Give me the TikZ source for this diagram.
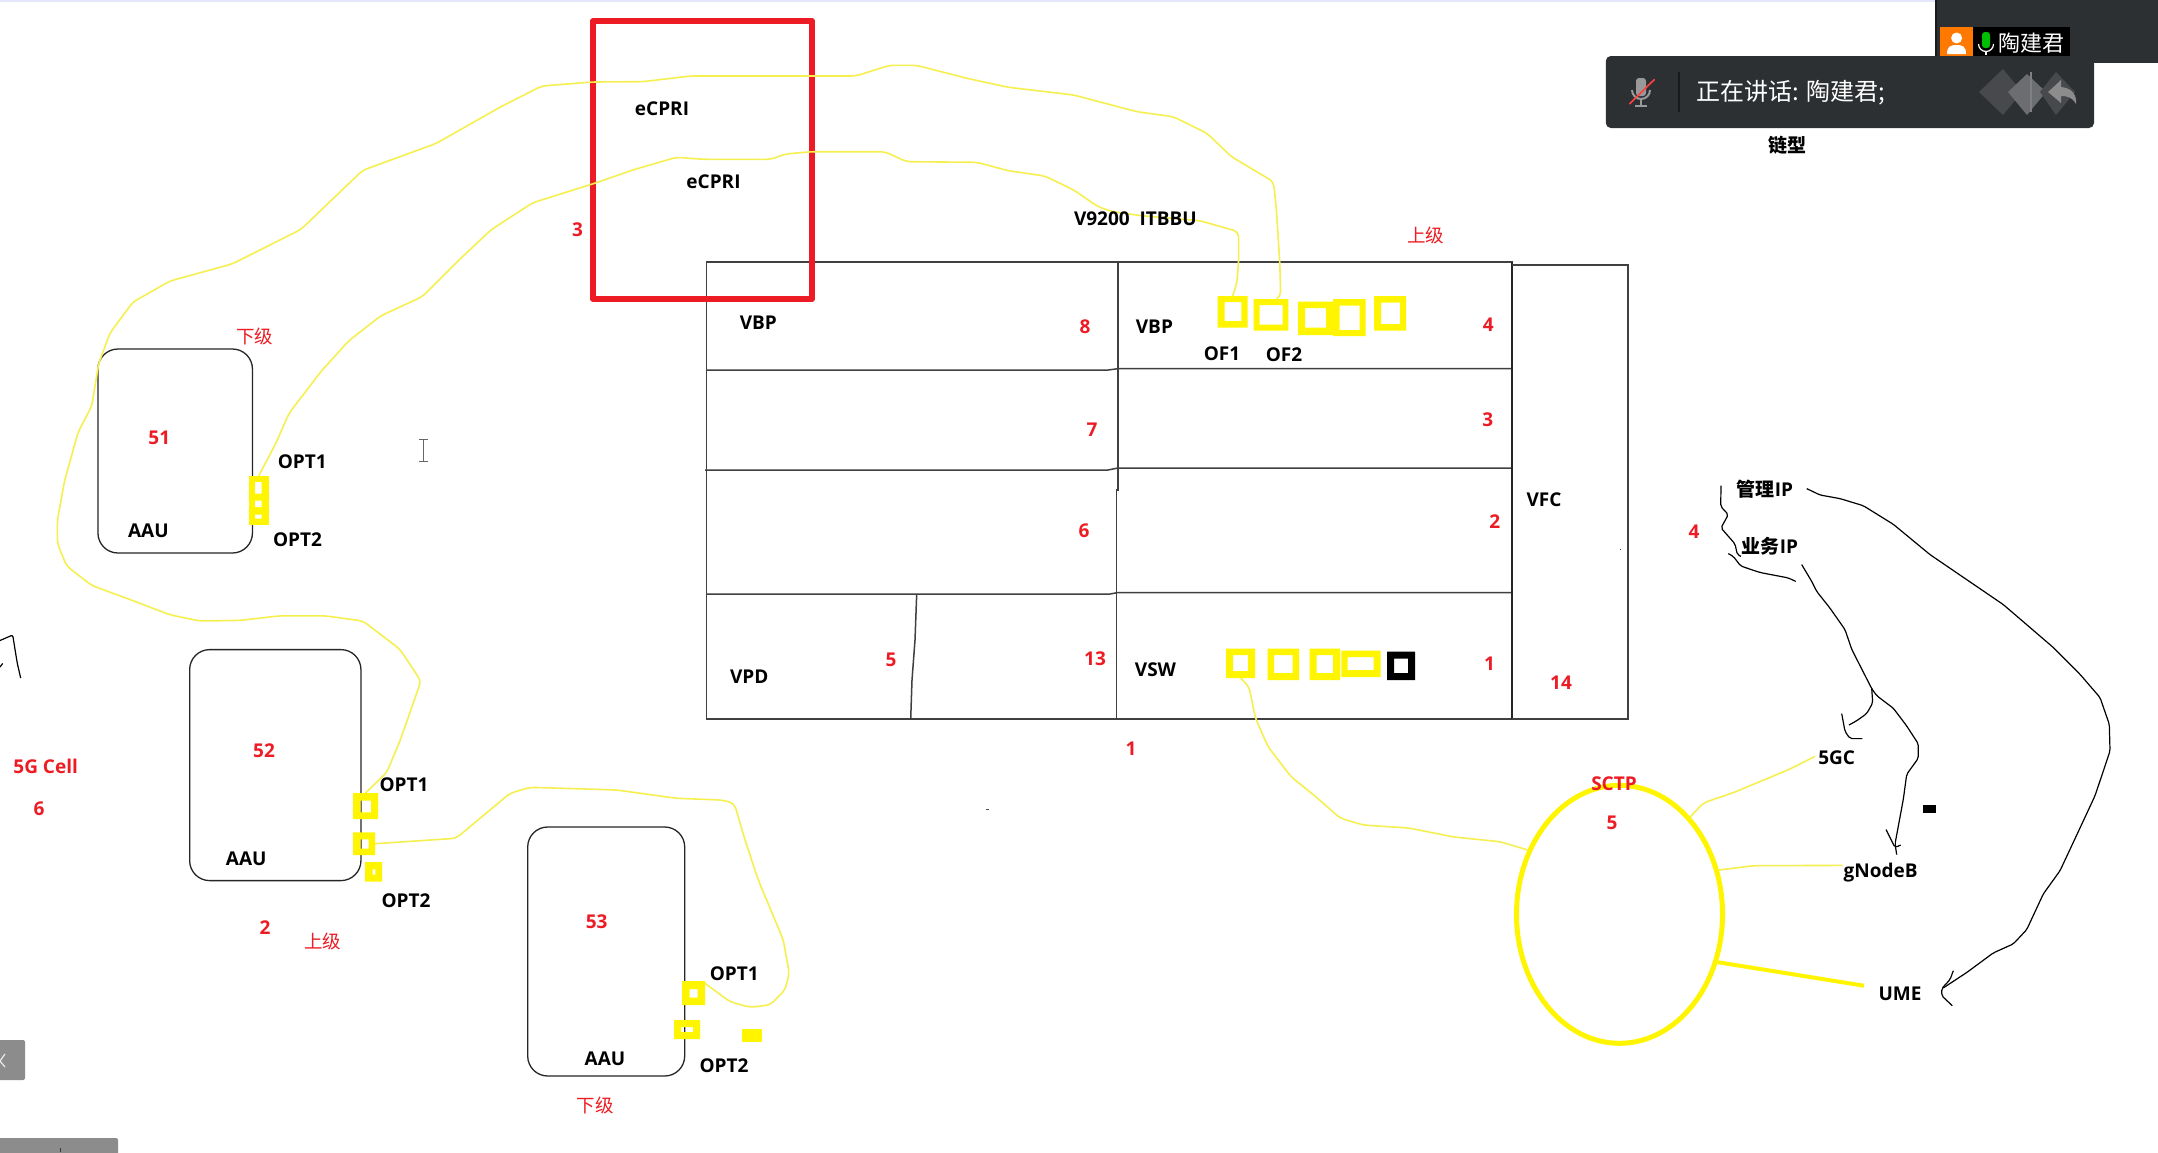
\documentclass[tikz,border=0pt]{standalone}
\usepackage{fontspec}
\usetikzlibrary{shapes.geometric}
\setmainfont{Open Sans}
\newfontfamily\cjk{Noto Sans CJK SC}
\definecolor{portyellow}{HTML}{FFF500}
\definecolor{wireyellow}{HTML}{F5F050}
\definecolor{redmark}{HTML}{ED1C24}
\definecolor{gridline}{HTML}{404040}
\definecolor{panel}{HTML}{2D3033}
\definecolor{graytab}{HTML}{8C8C8C}
\definecolor{logogray}{HTML}{47494C}
\newcommand\portring[8][portyellow]{%
  \fill[#1,even odd rule] (#3,#4) rectangle (#5,#6) #7 rectangle #8;
  \node[portbox,minimum width={((#5)-(#3))*1pt},minimum height={((#6)-(#4))*1pt}] (#2) at ({((#3)+(#5))/2},{((#4)+(#6))/2}) {};
}
\tikzset{
  portbox/.style={inner sep=0pt,outer sep=0pt,draw=none},
  blab/.style={font=\fontsize{19}{22}\selectfont\bfseries,text=black,inner sep=0pt},
  rlab/.style={font=\fontsize{19}{22}\selectfont\bfseries,text=redmark,inner sep=0pt},
  cjkred/.style={font=\fontsize{18.5}{22}\selectfont\cjk,text=redmark,inner sep=0pt},
  aau/.style={draw=black!85,line width=1.3pt,rounded corners=20pt,inner sep=0pt,outer sep=0pt},
  wire/.style={draw=wireyellow,line width=1.6pt,rounded corners=5pt,line join=round},
  penline/.style={draw=black,line width=1.2pt,line join=round,rounded corners=2pt},
  grid/.style={draw=gridline,line width=1.5pt},
}
\begin{document}
\begin{tikzpicture}[x=1pt,y=-1pt]
\useasboundingbox (0,0) rectangle (2158,1152);
\fill[white] (0,0) rectangle (2158,1152);
\fill[black!5!blue!10!white] (0,0) rectangle (1935,2);

% ---- main chassis
\draw[grid] (706.7,262) rectangle (1512,719);
\draw[grid] (706.7,370) -- (1108,370) -- (1118,368.7) -- (1512,368.7);
\draw[grid] (705,470) -- (1108,470) -- (1118,468) -- (1512,468);
\draw[grid] (706.7,594) -- (1110,594) -- (1117,592.7) -- (1512,592.7);
\draw[grid] (1118,262) -- (1118,490) -- (1116.7,490) -- (1116.7,719);
\draw[grid] (916.7,594) -- (915,640) -- (912,680) -- (910.7,719);
\draw[draw=black!85,line width=2.6pt] (1512,262) -- (1512,719);
\draw[grid] (1512,265) -- (1628,265) -- (1628,719) -- (1512,719);

% ---- red rectangle
\draw[redmark,line width=6pt,line join=round] (593,21) rectangle (812,299);

% ---- AAU boxes
\node[aau,minimum width=154.5pt,minimum height=204pt] (aauA) at (175.2,451) {};
\node[aau,minimum width=171.3pt,minimum height=231pt] (aauB) at (275.3,765.1) {};
\node[aau,minimum width=157pt,minimum height=249pt] (aauC) at (606.2,951.5) {};

% ---- ports, VBP row
\portring{of1}{1217.5}{296}{1247.7}{327.7}{(1224.6,302)}{(1241.4,321)}
\portring{of2}{1253.7}{299}{1288.4}{330.7}{(1259.6,305)}{(1282.5,324.7)}
\portring{ofc}{1298}{301.7}{1333}{335}{(1305,308)}{(1326,327.7)}
\portring{ofd}{1333}{299}{1365.6}{336}{(1339.6,305.7)}{(1359.6,330)}
\portring{ofe}{1374}{296}{1406}{330.7}{(1381,302.7)}{(1400,324)}
% ---- ports, VSW row
\portring{swa}{1226}{648.7}{1255}{678}{(1233,655)}{(1248,671)}
\portring{swb}{1267.7}{648.7}{1299}{680}{(1274,655)}{(1292.6,673)}
\portring{swc}{1309.5}{648.7}{1340}{680}{(1316.5,655)}{(1333,673)}
\portring{swd}{1341.4}{650.7}{1380.7}{677}{(1347.7,657)}{(1373.7,670)}
\portring[black]{swe}{1387}{651.7}{1415}{680}{(1394,658.7)}{(1408,673)}
% ---- ports, AAU 51
\fill[portyellow] (249,475.7) rectangle (268.6,525.4);
\node[portbox,minimum width=19.6pt,minimum height=49.7pt] (pA) at (258.8,500.5) {};
\fill[white] (255,482) rectangle (261.7,493.7) (255,500.6) rectangle (261.7,507) (255,514.7) rectangle (261.7,518.6);
% ---- ports, AAU 52
\portring{pBa}{353}{793}{378}{819}{(360.7,800.7)}{(371,812.3)}
\portring{pBb}{353}{832.4}{375}{855}{(360.7,839.4)}{(368.7,848.6)}
\portring{pBc}{365}{862}{382}{881.7}{(372.7,869.4)}{(375.3,874.6)}
% ---- ports, AAU 53
\portring{pCa}{682}{981}{705}{1005}{(689.7,989)}{(697.7,997.7)}
\portring{pCb}{674}{1020}{700}{1039}{(681,1027)}{(693,1032)}
\fill[portyellow] (742,1028.7) rectangle (761.7,1042);

% ---- SCTP ellipse
\node[ellipse,draw=portyellow,line width=5pt,minimum width=206pt,minimum height=258pt,inner sep=0pt] (sctp) at (1619.5,914.3) {};

% ---- yellow fibres
\draw[wire] (pA.north) -- (275.5,444) -- (289,413.3) -- (321.4,371) -- (349,340.6) -- (381,315.7) -- (422.4,296.6) -- (459,260) -- (491.3,229.6) -- (532.6,202.8) -- (596.4,182.7) -- (632.7,170) -- (676.3,157.3) -- (703,159.3) -- (770.9,159.3) -- (785.4,154) -- (812,151.7) -- (884.8,151.7) -- (906.6,161.7) -- (976.9,162.3) -- (1008.4,170.7) -- (1044.7,176) -- (1073.8,190) -- (1098,206.7) -- (1112.6,211.7) -- (1141.7,215.7) -- (1199.9,220.7) -- (1238.6,231.7) -- (1238.6,261.7) -- (1236.8,283.3) -- (of1.north);
\draw[wire] (pBa.north) -- (386.7,772.5) -- (400,740.8) -- (421,681) -- (400,649.3) -- (363,621) -- (325,615.8) -- (280,615.8) -- (240,620.4) -- (200,621) -- (170,614.8) -- (128.6,599) -- (91.8,585.5) -- (66.6,566) -- (57.4,543.4) -- (57.4,520.5) -- (64.3,482) -- (78,432.5) -- (91.8,405.7) -- (98.7,363.6) -- (110,333) -- (133,302) -- (170,281) -- (232,264) -- (300.7,229.6) -- (362.7,170.3) -- (436,143.5) -- (500.4,107) -- (541.8,86) -- (592.3,82) -- (642.4,81.7) -- (691,76) -- (855.7,76) -- (889.6,65.3) -- (916.3,65.3) -- (967,78.3) -- (1008.4,87.3) -- (1073.8,95) -- (1136.8,111.7) -- (1173.2,116.7) -- (1207,133.3) -- (1231.4,156.7) -- (1273.5,181.7) -- (1276.4,210) -- (1279.8,263.3) -- (1280.7,296.7) -- (of2.70);
\draw[wire] (pBb.east) -- (456,838.3) -- (510,793.3) -- (530,787.3) -- (563.3,788.3) -- (616.7,790) -- (676.7,798.3) -- (721.7,800) -- (734.3,803.3) -- (745,840) -- (758.3,880) -- (783.3,940) -- (789.3,973.3) -- (785,990) -- (770,1005) -- (750,1007.3) -- (730,1001.7) -- (pCa.40);
\draw[wire] (swa.south) -- (1249,686.7) -- (1255.4,718) -- (1268,746.7) -- (1291,776.7) -- (1315.8,796.7) -- (1340,818) -- (1363,825) -- (1408.8,828) -- (1454,837) -- (1500,841.7) -- (sctp.145.5);
\draw[wire] (sctp.54) -- (1703.3,802.9) -- (1735,792) -- (1790,769) -- (1815,756.4);
\draw[wire] (sctp.24) -- (1753.3,865.7) -- (1842.7,865.4);
\draw[draw=portyellow,line width=4pt] (sctp.-26) -- (1864,985.7);

% ---- black pen strokes
\draw[penline] (1721,485.7) -- (1720.7,506.4) -- (1728.3,514.6) -- (1721,527.9) -- (1735,543.9) -- (1737.3,554.6) -- (1741,556.4);
\draw[penline] (1728.3,553.6) -- (1733.3,556.4) -- (1740.7,566) -- (1760,572.5) -- (1788.3,577.9) -- (1795.7,581.4);
\draw[penline] (1801.7,564.6) -- (1811.7,581.4) -- (1816.7,591.4) -- (1830,608.2) -- (1845,629.6) -- (1851.7,649.3) -- (1871.7,688.6) -- (1876.7,695.7) -- (1893.3,708.2) -- (1906.7,726) -- (1918.3,743.9) -- (1918.3,758.2) -- (1906.7,774.3) -- (1903.3,799.3) -- (1895,843.9) -- (1896.7,854.6);
\draw[penline] (1886,829.6) -- (1895,847.5) -- (1900.7,845);
\draw[penline] (1871.7,688.6) -- (1872.7,702.9) -- (1866.7,713.6) -- (1856.7,720.7) -- (1849,725);
\draw[penline] (1841.7,713.6) -- (1845,731.4) -- (1850,738.6) -- (1862.3,738.6);
\draw[penline] (1806.7,488.6) -- (1820,495) -- (1840,498.6) -- (1863.3,505.7) -- (1893.3,524.3) -- (1930,554.6) -- (2003.3,604.6) -- (2053.3,647.5) -- (2080,674.3) -- (2100,697.5) -- (2109.3,724.3) -- (2110,751) -- (2095,795.7) -- (2081.7,824.3) -- (2060,870.7) -- (2043.3,893.9) -- (2026.7,929.6) -- (2013.3,943.9) -- (1993.3,952.9) -- (1966.7,972.5) -- (1943.3,987.9);
\draw[penline] (1953.3,970.7) -- (1950,979.6) -- (1941.7,988.6) -- (1941.7,995.7) -- (1952.3,1005.7);
\draw[penline] (0,640.5) -- (12.7,635) -- (17.3,663.4) -- (20.7,678);
\draw[penline] (0,667) -- (2.7,663.4);
\fill[black] (1923,804.6) rectangle (1936,812.9);
\fill[black!70] (986,808.5) rectangle (988.5,810);
\fill[black!70] (1619.5,549) rectangle (1621,550);

% ---- cursor
\draw[black!60,line width=1pt] (419,439) -- (427.5,439) (423,439) -- (423,461) (419,461) -- (427.5,461);

% ---- black labels
\node[blab] (t1) at (662,109) {eCPRI};
\node[blab] (t2) at (713.5,181.7) {eCPRI};
\node[blab] (t3) at (1135.4,218.5) {V9200\ \ ITBBU};
\node[blab] (t4) at (758.3,322.7) {VBP};
\node[blab] (t5) at (1154.4,326.7) {VBP};
\node[blab] (t6) at (1222,353.5) {OF1};
\node[blab] (t7) at (1284,355) {OF2};
\node[blab] (t8) at (1544,499.6) {VFC};
\node[blab] (t9) at (749.3,676.7) {VPD};
\node[blab] (t10) at (1155.5,670) {VSW};
\node[blab] (t11) at (148.4,531) {AAU};
\node[blab] (t12) at (302.3,462) {OPT1};
\node[blab] (t13) at (297.5,539.6) {OPT2};
\node[blab] (t14) at (246.2,859) {AAU};
\node[blab] (t15) at (404,785) {OPT1};
\node[blab] (t16) at (406,900.7) {OPT2};
\node[blab] (t17) at (605,1058.7) {AAU};
\node[blab] (t18) at (734.3,974) {OPT1};
\node[blab] (t19) at (724,1065.7) {OPT2};
\node[blab] (t20) at (1765,489) {{\cjk 管理}IP};
\node[blab] (t21) at (1770,546.4) {{\cjk 业务}IP};
\node[blab] (t22) at (1836.7,757.5) {5GC};
\node[blab] (t23) at (1880.7,872.5) {gNodeB};
\node[blab] (t24) at (1900,994) {UME};
\node[blab] (t25) at (1787,145) {\cjk 链型};

% ---- red labels
\node[rlab] (r1) at (577.6,229.6) {3};
\node[cjkred] (r2) at (254.8,336) {下级};
\node[rlab] (r3) at (159.3,438) {51};
\node[rlab] (r4) at (1085,326.7) {8};
\node[rlab] (r5) at (1092,430) {7};
\node[rlab] (r6) at (1084,531) {6};
\node[rlab] (r7) at (891,660) {5};
\node[rlab] (r8) at (1095,659) {13};
\node[rlab] (r9) at (1488.4,325) {4};
\node[cjkred] (r10) at (1425.6,235) {上级};
\node[rlab] (r11) at (1487.8,420) {3};
\node[rlab] (r12) at (1494.7,521.6) {2};
\node[rlab] (r13) at (1489.5,664) {1};
\node[rlab] (r14) at (1561,682.3) {14};
\node[rlab] (r15) at (1131,749) {1};
\node[rlab] (r16) at (1614,783.3) {SCTP};
\node[rlab] (r17) at (1612,822.7) {5};
\node[rlab] (r18) at (1694,531.4) {4};
\node[rlab] (r19) at (264,750.7) {52};
\node[rlab] (r20) at (45.7,766) {5G Cell};
\node[rlab] (r21) at (39,808.8) {6};
\node[rlab] (r22) at (265,927.5) {2};
\node[cjkred] (r23) at (322.7,941.5) {上级};
\node[rlab] (r24) at (596.7,921.7) {53};
\node[cjkred] (r25) at (595,1105) {下级};

% ---- UI overlay, top right
\fill[panel] (1934.5,0) rectangle (2158,63);
\fill[black!90] (1934.5,0) rectangle (1936.5,63);
\fill[orange!95!red] (1940,27) rectangle (1973.4,56);
\fill[white] (1956.6,38) circle (5.5);
\fill[white] (1947,54) .. controls (1947,46) and (1951,45) .. (1956.6,45) .. controls (1962,45) and (1966,46) .. (1966,54) -- cycle;
\fill[black] (1973.4,27) rectangle (2070,56);
\fill[green!75!black,rounded corners=3pt] (1982,32) rectangle (1990,48);
\draw[white,line width=1.2pt] (1978.5,44) arc[start angle=180,end angle=0,x radius=7.5,y radius=7.5];
\draw[white,line width=1.2pt] (1986,51.5) -- (1986,55);
\node[font=\fontsize{22}{24}\selectfont\cjk,text=white,inner sep=0pt] (uname) at (2031.8,43) {陶建君};

\fill[panel,rounded corners=5pt] (1605.8,56) rectangle (2094,128);
\fill[gray!80,rounded corners=3pt] (1636,78) rectangle (1646,96);
\draw[gray!80,line width=2pt] (1632,90) arc[start angle=180,end angle=0,x radius=9,y radius=9];
\draw[gray!80,line width=2pt] (1641,99) -- (1641,105) (1635,105.5) -- (1647,105.5);
\draw[red!75!white,line width=1.6pt] (1629.4,104) -- (1654.6,79.3);
\draw[black!90,line width=1.6pt] (1679,72) -- (1679,112);
\node[font=\fontsize{24}{26}\selectfont\cjk,text=white,anchor=west,inner sep=0pt] (speak) at (1696,93) {正在讲话: 陶建君;};
\fill[logogray] (1979,92) -- (2003,69) -- (2022,92) -- (2003,115) -- cycle;
\fill[logogray!80!white] (2008,92) -- (2027,74) -- (2046,92) -- (2027,115) -- cycle;
\fill[logogray] (2040,92) -- (2056,72) -- (2075,92) -- (2056,115) -- cycle;
\draw[gray,line width=1.2pt] (2031,72) -- (2031,112);
\fill[graytab] (2048,92) -- (2061,80) -- (2061,87) .. controls (2072,88) and (2077,95) .. (2076,104) .. controls (2072,97) and (2067,96) .. (2061,96) -- (2061,103) -- cycle;

% ---- UI tabs, bottom left
\fill[graytab,rounded corners=2pt] (-4,1040) rectangle (25,1080);
\draw[white!85!gray,line width=1.2pt] (5,1054) -- (0,1061) -- (5,1067);
\fill[graytab,rounded corners=2pt] (-4,1138) rectangle (118,1156);
\draw[black!55!gray,line width=.8pt] (60.7,1148) -- (60.7,1152);
\end{tikzpicture}
\end{document}
